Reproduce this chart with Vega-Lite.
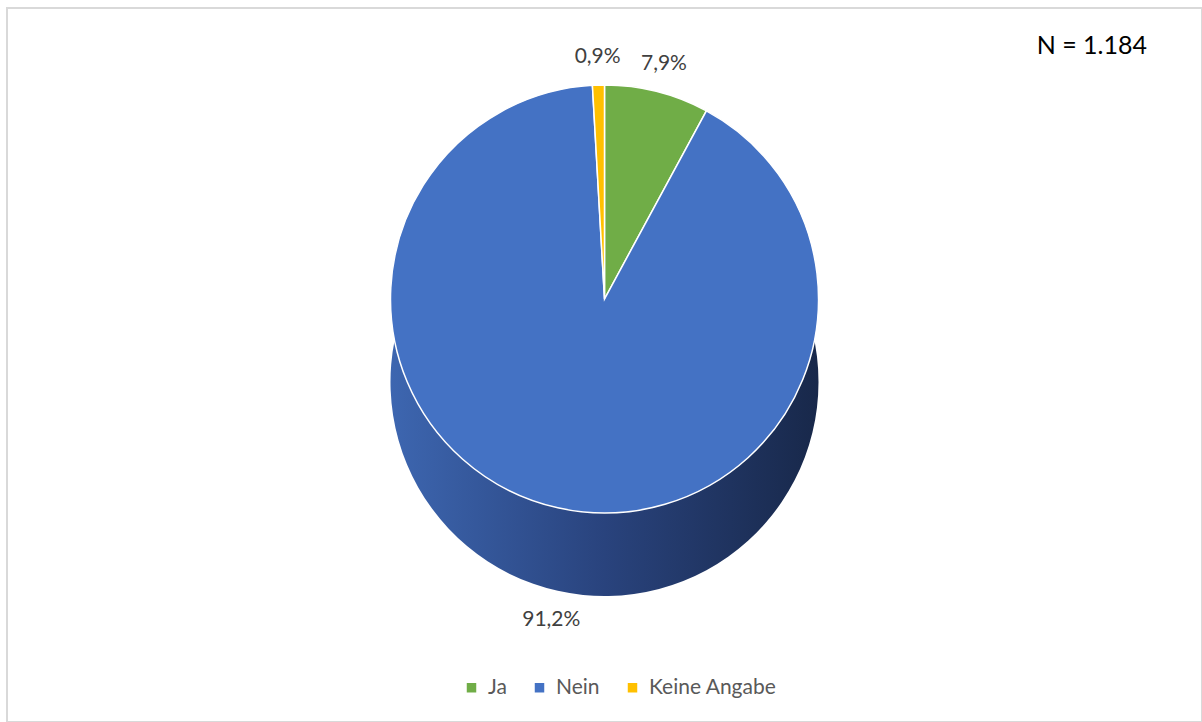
{
  "$schema": "https://vega.github.io/schema/vega-lite/v6.json",
  "width": 1202,
  "height": 722,
  "autosize": {"type": "fit", "contains": "padding"},
  "padding": {"left": 7, "top": 8, "right": 0, "bottom": 0},
  "background": "white",
  "config": {"view": {"stroke": "#d9d9d9", "strokeWidth": 2}, "font": "Lato"},
  "view": {"stroke": "#d9d9d9", "strokeWidth": 2},
  "title": {"text": "N = 1.184", "anchor": "end", "orient": "top", "offset": -51, "dx": -55, "fontSize": 25, "fontWeight": "normal", "color": "#000000", "font": "Lato"},
  "data": {
    "values": [
      {"cat": "Ja", "value": 7.9, "order": 1, "label": "7,9%"},
      {"cat": "Nein", "value": 91.2, "order": 2, "label": "91,2%"},
      {"cat": "Keine Angabe", "value": 0.9, "order": 3, "label": "0,9%"}
    ]
  },
  "encoding": {
    "theta": {"field": "value", "type": "quantitative", "stack": true},
    "order": {"field": "order", "type": "quantitative", "sort": "ascending"}
  },
  "layer": [
    {
      "mark": {
        "type": "arc",
        "outerRadius": 214,
        "yOffset": 17,
        "fill": {
          "gradient": "linear",
          "x1": 0, "y1": 0, "x2": 1, "y2": 0,
          "stops": [
            {"offset": 0, "color": "#3d66b0"},
            {"offset": 0.5, "color": "#29437d"},
            {"offset": 1, "color": "#18284a"}
          ]
        }
      }
    },
    {
      "mark": {"type": "arc", "outerRadius": 214, "yOffset": -66, "stroke": "white", "strokeWidth": 1.5},
      "encoding": {
        "color": {
          "field": "cat",
          "type": "nominal",
          "sort": ["Ja", "Nein", "Keine Angabe"],
          "scale": {"domain": ["Ja", "Nein", "Keine Angabe"], "range": ["#70AD47", "#4472C4", "#FFC000"]},
          "legend": {
            "orient": "none",
            "legendX": 454,
            "legendY": 669,
            "direction": "horizontal",
            "title": null,
            "symbolType": "square",
            "symbolSize": 90,
            "symbolStrokeWidth": 0,
            "labelFontSize": 21,
            "labelColor": "#595959",
            "labelFont": "Lato",
            "labelOffset": 6,
            "columnPadding": 22
          }
        }
      }
    },
    {
      "mark": {"type": "text", "radius": 242, "yOffset": -66, "fontSize": 21, "color": "#404040", "font": "Lato"},
      "encoding": {
        "text": {"condition": {"test": "datum.cat !== 'Nein'", "field": "label"}, "value": ""}
      }
    },
    {
      "mark": {"type": "text", "radius": 244, "yOffset": 17, "fontSize": 21, "color": "#404040", "font": "Lato"},
      "encoding": {
        "text": {"condition": {"test": "datum.cat === 'Nein'", "field": "label"}, "value": ""}
      }
    }
  ]
}
